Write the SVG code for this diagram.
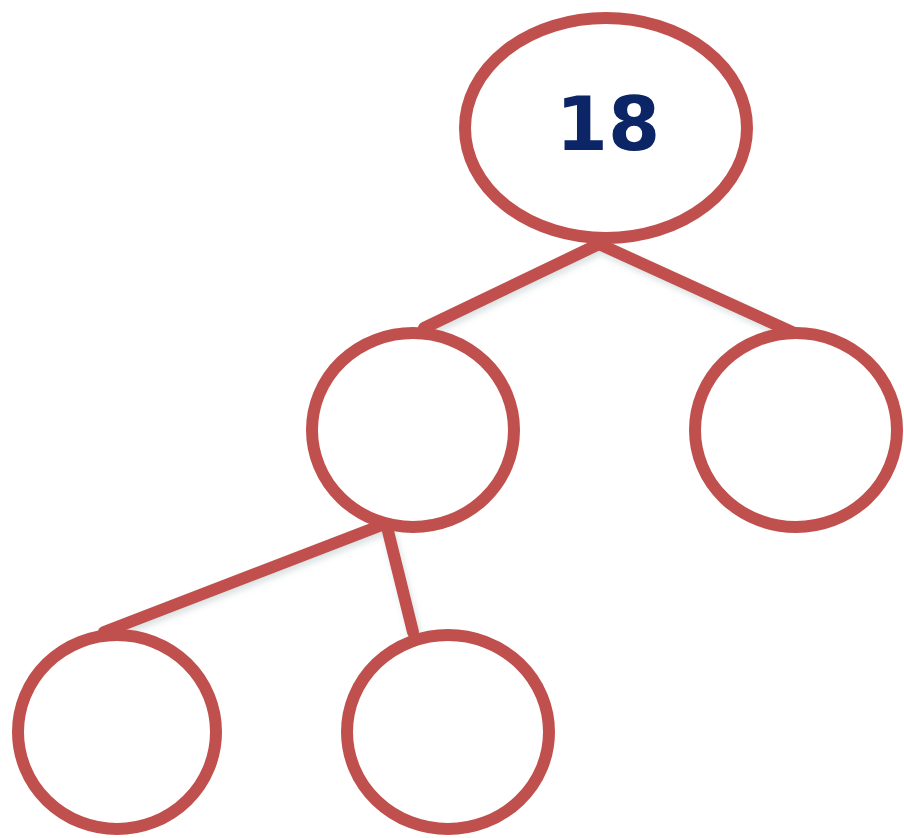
<svg xmlns="http://www.w3.org/2000/svg" width="904" height="838" viewBox="0 0 904 838">
<defs>
<style>
.edge{stroke:#c0504d;stroke-width:12;stroke-linecap:round;fill:none}
.node{stroke:#c0504d;stroke-width:12;fill:#ffffff}
.lbl{font-family:"DejaVu Sans",Verdana,sans-serif;font-weight:bold;font-size:75px;fill:#0b2566;text-anchor:middle}
</style>
<filter id="sh" x="-10%" y="-10%" width="120%" height="130%">
<feDropShadow dx="2" dy="4" stdDeviation="3" flood-color="#9aa" flood-opacity="0.35"/>
</filter>
</defs>
<rect width="904" height="838" fill="#ffffff"/>
<g id="connectors" filter="url(#sh)">
<line class="edge" x1="599" y1="244" x2="424" y2="328"/>
<line class="edge" x1="599" y1="244" x2="792" y2="332"/>
<line class="edge" x1="382" y1="525" x2="104" y2="632"/>
<line class="edge" x1="387" y1="527" x2="413" y2="632"/>
</g>
<g id="n18">
<ellipse class="node" cx="606" cy="128" rx="141" ry="110"/>
<text class="lbl" x="608" y="150">18</text>
</g>
<g id="nL">
<ellipse class="node" cx="413" cy="430" rx="101" ry="97"/>
</g>
<g id="nR">
<ellipse class="node" cx="796" cy="430" rx="101" ry="97"/>
</g>
<g id="nLL">
<ellipse class="node" cx="117" cy="732" rx="99" ry="97"/>
</g>
<g id="nLR">
<ellipse class="node" cx="448" cy="732" rx="101" ry="97"/>
</g>
</svg>
